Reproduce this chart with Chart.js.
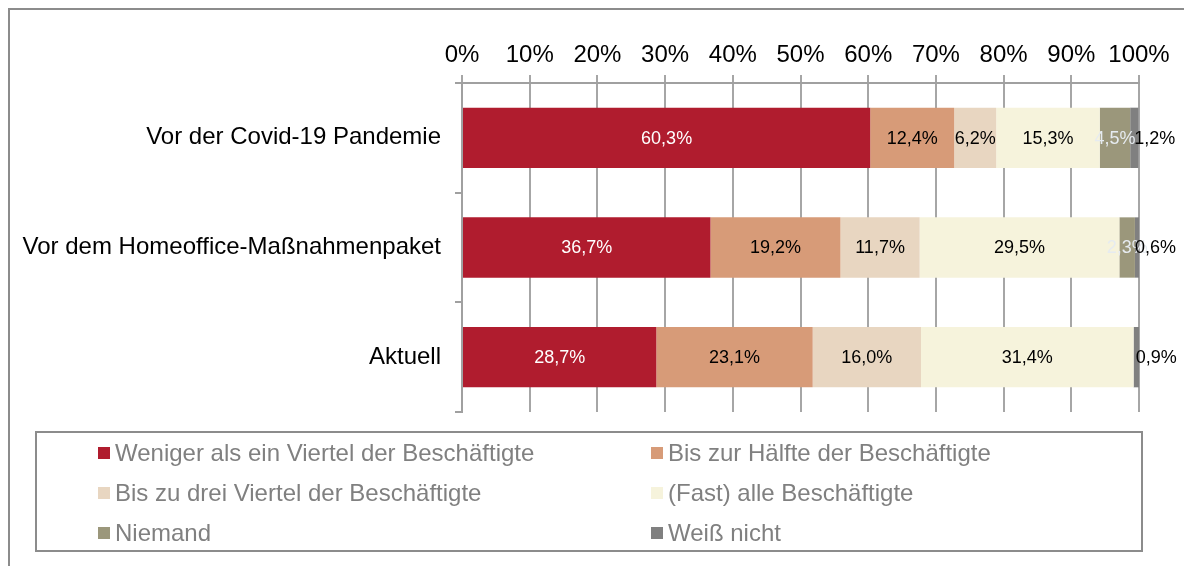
<!DOCTYPE html>
<html lang="de">
<head>
<meta charset="utf-8">
<script src="https://cdn.jsdelivr.net/npm/chart.js@4.4.1/dist/chart.umd.min.js"></script>
<style>
  html, body { margin: 0; padding: 0; background: #fff; }
  #wrap { position: relative; width: 1184px; height: 566px; overflow: hidden;
          font-family: 'Liberation Sans', Arial, sans-serif; }
  #frame { position: absolute; left: 8px; top: 8px; width: 1300px; height: 700px;
           border: 2px solid #8c8c8c; }
  #chart { position: absolute; left: 0; top: 0; }
  #legend { position: absolute; left: 35px; top: 431px; width: 1108px; height: 121px;
            border: 2px solid #8c8c8c; display: grid; box-sizing: border-box;
            grid-template-columns: 553px 1fr; grid-auto-rows: 40px;
            padding-left: 61px; padding-top: 0; }
  .legend-item { display: flex; align-items: center; font-size: 24px; color: #808080;
                 white-space: nowrap; }
  .legend-dot { width: 12px; height: 12px; margin-right: 5px; flex: none; }
</style>
</head>
<body>
<div id="wrap">
  <div id="frame"></div>
  <canvas id="chart" width="1184" height="566"></canvas>
  <div id="legend"></div>
</div>
<script>
const categories = ['Vor der Covid-19 Pandemie', 'Vor dem Homeoffice-Maßnahmenpaket', 'Aktuell'];
const seriesNames = [
  'Weniger als ein Viertel der Beschäftigte',
  'Bis zur Hälfte der Beschäftigte',
  'Bis zu drei Viertel der Beschäftigte',
  '(Fast) alle Beschäftigte',
  'Niemand',
  'Weiß nicht'
];
const wenigerAlsViertel = [60.3, 36.7, 28.7];
const bisZurHaelfte     = [12.4, 19.2, 23.1];
const bisDreiViertel    = [6.2, 11.7, 16.0];
const fastAlle          = [15.3, 29.5, 31.4];
const niemand           = [4.5, 2.3, 0];
const weissNicht        = [1.2, 0.6, 0.9];
const xTicks = [0, 10, 20, 30, 40, 50, 60, 70, 80, 90, 100];

const seriesValues = [wenigerAlsViertel, bisZurHaelfte, bisDreiViertel, fastAlle, niemand, weissNicht];
const seriesColors = ['#b01c2e', '#d79b78', '#e8d6c1', '#f6f3dc', '#9b977b', '#808080'];
const labelColors  = ['#ffffff', '#000000', '#000000', '#000000', '#e6ebf0', '#000000'];

const FONT = "'Liberation Sans', Arial, sans-serif";
Chart.defaults.font.family = FONT;

// Datenbeschriftungen in den Balken
const barLabelPlugin = {
  id: 'barLabels',
  afterDatasetsDraw(chart) {
    const { ctx } = chart;
    const last = chart.data.datasets.length - 1;
    ctx.save();
    ctx.font = `18px ${FONT}`;
    ctx.textBaseline = 'middle';
    chart.data.datasets.forEach((ds, di) => {
      chart.getDatasetMeta(di).data.forEach((bar, i) => {
        const v = ds.data[i];
        if (!v) return;
        const txt = v.toFixed(1).replace('.', ',') + '%';
        ctx.fillStyle = labelColors[di];
        if (di === last) {
          ctx.textAlign = 'left';
          ctx.fillText(txt, bar.x - 4, bar.y + 1);
        } else {
          ctx.textAlign = 'center';
          ctx.fillText(txt, (bar.x + bar.base) / 2, bar.y + 1);
        }
      });
    });
    ctx.restore();
  }
};

const chart = new Chart(document.getElementById('chart'), {
  type: 'bar',
  data: {
    labels: categories,
    datasets: seriesNames.map((name, i) => ({
      label: name,
      data: seriesValues[i],
      backgroundColor: seriesColors[i],
      borderWidth: 0,
      categoryPercentage: 1,
      barPercentage: 0.55
    }))
  },
  options: {
    indexAxis: 'y',
    responsive: false,
    animation: false,
    devicePixelRatio: 1,
    layout: { padding: { top: 20, right: 45, bottom: 154, left: 0 } },
    plugins: {
      legend: { display: false },
      tooltip: { enabled: false }
    },
    scales: {
      x: {
        position: 'top',
        stacked: true,
        min: 0,
        max: 100,
        afterBuildTicks: s => { s.ticks = xTicks.map(v => ({ value: v })); },
        ticks: { callback: v => v + '%', color: '#000', font: { size: 24 }, padding: 5, maxRotation: 0 },
        grid: { color: '#a6a6a6', lineWidth: 2, tickLength: 8 },
        border: { color: '#a0a0a0', width: 2 },
        afterFit: s => { s.height = 63; }
      },
      y: {
        stacked: true,
        ticks: { color: '#000', font: { size: 24 }, padding: 14 },
        grid: { drawOnChartArea: false, color: '#a0a0a0', lineWidth: 2, tickLength: 7 },
        border: { color: '#a0a0a0', width: 2 },
        afterFit: s => { s.width = 462; }
      }
    }
  },
  plugins: [barLabelPlugin]
});

function buildLegend() {
  const legend = document.getElementById('legend');
  seriesNames.forEach((name, i) => {
    const item = document.createElement('div');
    item.className = 'legend-item';
    const dot = document.createElement('span');
    dot.className = 'legend-dot';
    dot.style.background = seriesColors[i];
    const label = document.createElement('span');
    label.textContent = name;
    item.appendChild(dot);
    item.appendChild(label);
    legend.appendChild(item);
  });
}
buildLegend();
</script>
</body>
</html>
